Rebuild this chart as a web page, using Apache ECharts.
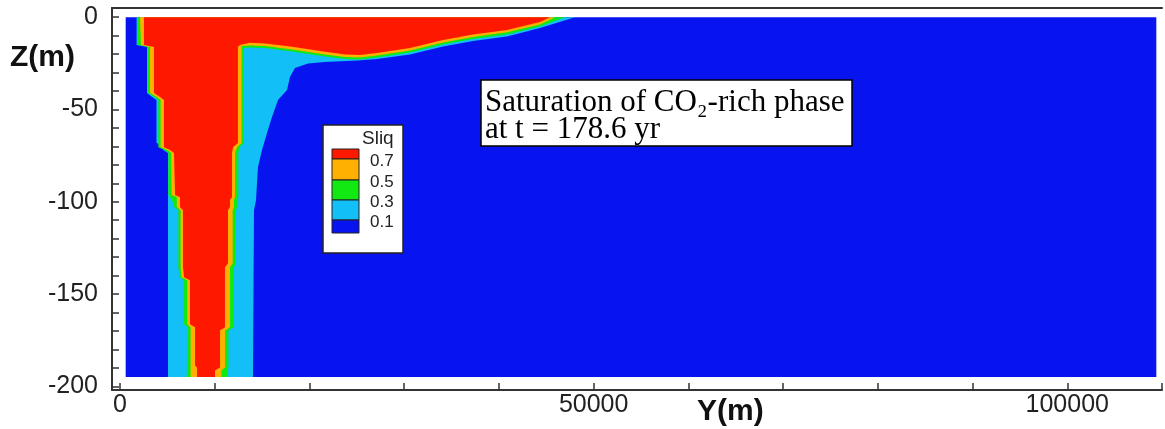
<!DOCTYPE html>
<html>
<head>
<meta charset="utf-8">
<script src="https://cdn.jsdelivr.net/npm/echarts@6/dist/echarts.min.js"></script>
<style>
  html, body { margin: 0; padding: 0; background: #fff; }
  #chart { width: 1165px; height: 429px; }
</style>
</head>
<body>
<div id="chart"></div>
<script>
// model domain and Sliq contour regions, vertices as [Y (m), Z (m)]
const domain = [[600, 0], [109400, 0], [109400, -195], [600, -195]];

// region with Sliq >= 0.1
const sliq01 = [
  [1750, 0], [48030, 0], [44340, -5.8], [40850, -10.4], [37260, -12.9], [34100, -15.8],
  [30610, -20.2], [27130, -22.6], [25120, -23.4], [21640, -24.3], [19850, -25.1],
  [18470, -27.5], [17940, -32.4], [17630, -39.4], [16680, -44.9], [16045, -54.1],
  [15520, -62.8], [14990, -72], [14570, -81.2], [14460, -89.9], [14360, -99.1],
  [14145, -104.6], [14040, -195], [5067, -195], [5067, -73.6], [4570, -72],
  [4570, -70.4], [3850, -68], [3850, -44.9], [3400, -43.2], [2850, -41.1],
  [2850, -16.1], [1750, -15]
];

// region with Sliq >= 0.3
const sliq03 = [
  [1795, 0], [46970, 0], [44340, -5], [40850, -9.3], [37260, -11.8], [34100, -14.8],
  [30610, -19.1], [27130, -21.8], [25330, -22.9], [23750, -22.6], [21640, -21.3],
  [18160, -18.6], [15310, -16.7], [13720, -16.4], [13090, -16.7], [13090, -68.2],
  [12600, -70.4], [12490, -73.6], [12490, -97.5], [12350, -99.1], [12350, -102.9],
  [12245, -104.6], [12245, -133.3], [12030, -135.5], [12030, -168], [11440, -169.7],
  [11440, -189.8], [11300, -191.4], [11300, -195], [7050, -195], [7150, -168],
  [6760, -166.4], [6760, -142.5], [6300, -140.9], [6160, -135.5], [6160, -104.6],
  [5700, -102.9], [5500, -99], [5100, -96.4], [5100, -73.6], [4700, -72],
  [4045, -70.4], [4045, -44.9], [3600, -43.2], [2950, -41.1], [2950, -16.1], [1900, -15]
];

// region with Sliq >= 0.5
const sliq05 = [
  [2110, 0], [45920, 0], [44340, -3.9], [40850, -8.2], [37260, -10.7], [34100, -13.7],
  [30610, -18], [27130, -20.7], [25330, -21.8], [23750, -21.5], [21640, -20.2],
  [18160, -17.5], [15310, -15.6], [13720, -15.3], [12830, -15.6], [12830, -68.2],
  [12350, -70.4], [12140, -73.6], [12140, -97.5], [12030, -99.1], [12030, -102.9],
  [11890, -104.6], [11890, -133.3], [11610, -135.5], [11610, -168], [11080, -169.7],
  [11080, -189.8], [10700, -191.4], [10700, -195], [7450, -195], [7450, -168],
  [7110, -166.4], [7110, -142.5], [6500, -140.9], [6400, -135.5], [6400, -104.6],
  [6000, -102.9], [6000, -97.5], [5450, -96.4], [5400, -73.6], [5000, -72],
  [4290, -70.4], [4290, -44.9], [3900, -43.2], [3170, -41.1], [3170, -16.1], [2210, -15]
];

// region with Sliq >= 0.7
const sliq07 = [
  [2530, 0], [45390, 0], [44340, -2.6], [40850, -6.9], [37260, -9.3], [34100, -12.3],
  [30610, -16.7], [27130, -19.4], [25330, -20.5], [23750, -20.2], [21640, -18.7],
  [18160, -16], [15310, -14.2], [13720, -13.8], [12670, -15], [12450, -16],
  [12450, -68.2], [11930, -70.4], [11820, -73.6], [11820, -97.5], [11610, -99.1],
  [11610, -102.9], [11400, -104.6], [11400, -133.3], [11080, -135.5], [11080, -168],
  [10560, -169.7], [10560, -189.8], [10030, -191.4], [10030, -195], [8130, -195],
  [8130, -189.8], [7920, -188.7], [7920, -168], [7390, -166.4], [7390, -142.5],
  [6760, -140.9], [6650, -135.5], [6650, -104.6], [6330, -102.9], [6330, -97.5],
  [5810, -96.4], [5700, -73.6], [5280, -72], [4640, -70.4], [4640, -44.9],
  [4220, -43.2], [3590, -41.1], [3590, -16.1], [2530, -15]
];

const xTicks = [0, 10000, 20000, 30000, 40000, 50000, 60000, 70000, 80000, 90000, 100000, 110000];
const xLabels = [0, 50000, 100000];
const zTicks = [0, -10, -20, -30, -40, -50, -60, -70, -80, -90, -100, -110, -120, -130, -140,
  -150, -160, -170, -180, -190, -200];
const zLabels = [0, -50, -100, -150, -200];
const legendLabels = ['0.7', '0.5', '0.3', '0.1'];

// band colours
const cBlue = '#0814f0', cCyan = '#12bff7', cGreen = '#12e812', cOrange = '#ffb000', cRed = '#ff1800';

const axisColor = '#333';
const labelFont = { fontFamily: 'Liberation Sans', fontSize: 25, color: '#222' };

function region(points, color) {
  return {
    type: 'custom',
    clip: true,
    silent: true,
    data: points,
    renderItem: function (params, api) {
      if (params.dataIndex !== 0) return null;
      return {
        type: 'polygon',
        shape: { points: points.map(p => api.coord(p)) },
        style: { fill: color, stroke: null }
      };
    }
  };
}

// legend: swatches top to bottom, edges in pixels
const swatchColors = [cRed, cOrange, cGreen, cCyan, cBlue];
const swatchEdges = [149, 159, 180, 200, 220, 233];
const legendItems = [
  { type: 'rect', z: 100, shape: { x: 323, y: 125, width: 80, height: 128 },
    style: { fill: '#fff', stroke: '#222', lineWidth: 1.5 } },
  { type: 'text', z: 101, x: 362, y: 129,
    style: { text: 'Sliq', font: '19px "Liberation Sans"', fill: '#222' } }
];
swatchColors.forEach((c, i) => {
  legendItems.push({
    type: 'rect', z: 101,
    shape: { x: 332, y: swatchEdges[i], width: 27, height: swatchEdges[i + 1] - swatchEdges[i] },
    style: { fill: c, stroke: '#222', lineWidth: 1 }
  });
});
legendLabels.forEach((t, i) => {
  legendItems.push({
    type: 'text', z: 101, x: 370, y: swatchEdges[i + 1] + 2,
    style: { text: t, font: '17px "Liberation Sans"', fill: '#222', verticalAlign: 'middle' }
  });
});

const chart = echarts.init(document.getElementById('chart'));
chart.setOption({
  animation: false,
  backgroundColor: '#fff',
  title: {
    text: 'Saturation of CO₂-rich phase\nat t = 178.6 yr',
    left: 481,
    top: 82,
    backgroundColor: '#fff',
    borderColor: '#000',
    borderWidth: 1.5,
    padding: [7, 8, 1, 4],
    textStyle: {
      fontFamily: 'Liberation Serif',
      fontSize: 31,
      fontWeight: 'normal',
      lineHeight: 27,
      color: '#000'
    }
  },
  grid: { left: 112, right: 3, top: 8, bottom: 39 },
  xAxis: [
    {
      type: 'value', position: 'bottom', min: -845, max: 110000,
      axisLine: { show: true, onZero: false, lineStyle: { color: axisColor, width: 2 } },
      axisTick: { show: true, inside: true, length: 7, customValues: xTicks,
        lineStyle: { color: axisColor, width: 1.5 } },
      axisLabel: { ...labelFont, margin: 3, customValues: xLabels, formatter: v => String(v) },
      splitLine: { show: false }
    },
    {
      type: 'value', position: 'top', min: -845, max: 110000,
      axisLine: { show: true, onZero: false, lineStyle: { color: axisColor, width: 2 } },
      axisTick: { show: false }, axisLabel: { show: false }, splitLine: { show: false }
    }
  ],
  yAxis: {
    type: 'value', position: 'left', min: -202, max: 5,
    axisLine: { show: true, onZero: false, lineStyle: { color: axisColor, width: 2 } },
    axisTick: { show: true, inside: true, length: 7, customValues: zTicks,
      lineStyle: { color: axisColor, width: 1.5 } },
    axisLabel: { ...labelFont, margin: 14, customValues: zLabels, formatter: v => String(v) },
    splitLine: { show: false }
  },
  graphic: [
    { type: 'text', x: 10, y: 43, z: 100,
      style: { text: 'Z(m)', font: 'bold 30px "Liberation Sans"', fill: '#111' } },
    { type: 'text', x: 697, y: 397, z: 100,
      style: { text: 'Y(m)', font: 'bold 30px "Liberation Sans"', fill: '#111' } },
    { type: 'group', z: 100, children: legendItems }
  ],
  series: [
    region(domain, cBlue),
    region(sliq01, cCyan),
    region(sliq03, cGreen),
    region(sliq05, cOrange),
    region(sliq07, cRed)
  ]
});
</script>
</body>
</html>
